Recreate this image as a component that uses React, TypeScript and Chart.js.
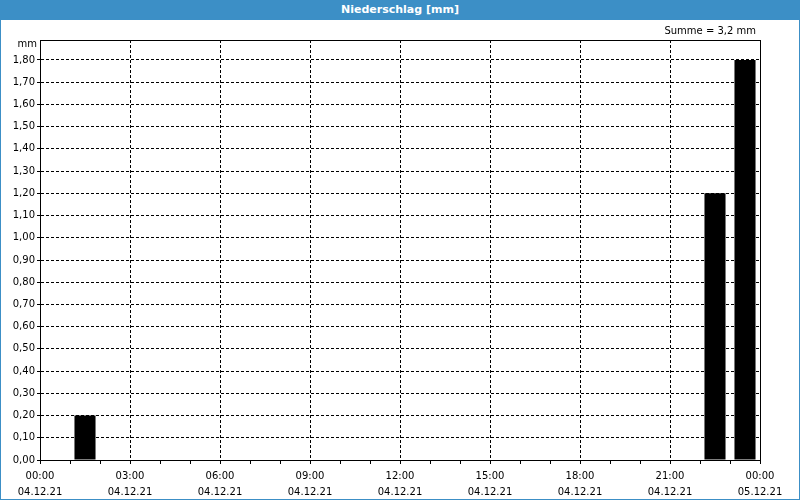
import React, { useEffect, useRef } from "react";
import { Chart, registerables } from "chart.js";

Chart.register(...registerables);

const TITLE = "Niederschlag [mm]";
const UNIT = "mm";
const HOURS = Array.from({ length: 24 }, (_, i) => i);
const VALUES = [
  0, 0.2, 0, 0, 0, 0, 0, 0, 0, 0, 0, 0,
  0, 0, 0, 0, 0, 0, 0, 0, 0, 0, 1.2, 1.8,
];
const X_TIME_LABELS = ["00:00", "03:00", "06:00", "09:00", "12:00", "15:00", "18:00", "21:00", "00:00"];
const X_DATE_LABELS = ["04.12.21", "04.12.21", "04.12.21", "04.12.21", "04.12.21", "04.12.21", "04.12.21", "04.12.21", "05.12.21"];
const Y_MAX = 1.89;

const BLUE = "#3c8fc6";
const FONT = "'DejaVu Sans', Verdana, sans-serif";

export default function App() {
  const ref = useRef<HTMLCanvasElement>(null);

  useEffect(() => {
    document.body.style.margin = "0";
    const sum = VALUES.reduce((a, b) => a + b, 0);
    const sumText = "Summe = " + (Math.round(sum * 10) / 10).toString().replace(".", ",") + " mm";

    const framePlugin = {
      id: "frame",
      afterDraw(chart: any) {
        const { ctx, chartArea } = chart;
        ctx.save();
        ctx.strokeStyle = "#000";
        ctx.lineWidth = 1;
        ctx.setLineDash([]);
        ctx.strokeRect(
          Math.round(chartArea.left) + 0.5,
          Math.round(chartArea.top) + 0.5,
          Math.round(chartArea.right - chartArea.left),
          Math.round(chartArea.bottom - chartArea.top)
        );
        ctx.fillStyle = "#000";
        ctx.font = "10px " + FONT;
        ctx.textAlign = "right";
        ctx.textBaseline = "middle";
        ctx.fillText(UNIT, chartArea.left - 3, chartArea.top + 4);
        ctx.fillText(sumText, chartArea.right - 4, 31);
        ctx.restore();
      },
    };

    const chart = new Chart(ref.current!, {
      type: "bar",
      data: {
        datasets: [
          {
            data: HOURS.map((h, i) => ({ x: h + 0.5, y: VALUES[i] })),
            backgroundColor: "#000",
            borderWidth: 0,
            barPercentage: 0.9,
            categoryPercentage: 0.78,
          },
        ],
      },
      options: {
        animation: false,
        responsive: false,
        layout: { padding: { top: 40, right: 40, left: 0, bottom: 0 } },
        plugins: {
          legend: { display: false },
          tooltip: { enabled: false },
          title: { display: false },
        },
        scales: {
          x: {
            type: "linear",
            min: 0,
            max: 24,
            offset: false,
            afterFit(scale: any) {
              scale.height = 40;
            },
            border: { display: true, color: "#000", width: 1, dash: [3, 2] },
            grid: {
              offset: false,
              color: (c: any) => (c.tick && c.tick.value % 3 === 0 ? "#000" : "rgba(0,0,0,0)"),
              tickColor: "#000",
              tickLength: 4,
              tickBorderDash: [],
              drawTicks: true,
            },
            ticks: {
              stepSize: 1,
              autoSkip: false,
              maxRotation: 0,
              padding: 4,
              color: "#000",
              font: { family: FONT, size: 10, lineHeight: "16px" } as any,
              callback: (v: any) => {
                const n = Number(v);
                if (n % 3 !== 0) return "";
                const i = n / 3;
                return [X_TIME_LABELS[i], X_DATE_LABELS[i]];
              },
            },
          },
          y: {
            min: 0,
            max: Y_MAX,
            afterFit(scale: any) {
              scale.width = 40;
            },
            border: { display: true, color: "#000", width: 1, dash: [3, 2] },
            grid: {
              color: "#000",
              tickColor: "#000",
              tickLength: 3,
              tickBorderDash: [3, 2],
            },
            ticks: {
              stepSize: 0.1,
              includeBounds: false,
              padding: 2,
              color: "#000",
              font: { family: FONT, size: 10 },
              callback: (v: any) => Number(v).toFixed(2).replace(".", ","),
            },
          },
        },
      },
      plugins: [framePlugin],
    } as any);
    return () => chart.destroy();
  }, []);

  return (
    <div
      style={{
        position: "fixed",
        left: 0,
        top: 0,
        width: 800,
        height: 500,
        boxSizing: "border-box",
        border: "1px solid " + BLUE,
        background: "#fff",
        overflow: "hidden",
      }}
    >
      <canvas
        ref={ref}
        width={800}
        height={500}
        style={{ position: "absolute", left: -1, top: -1, width: 800, height: 500 }}
      />
      <div
        style={{
          position: "absolute",
          left: -1,
          top: -1,
          width: 800,
          height: 20,
          background: BLUE,
          color: "#fff",
          fontFamily: FONT,
          fontWeight: "bold",
          fontSize: 11,
          lineHeight: "20px",
          textAlign: "center",
        }}
      >
        {TITLE}
      </div>
    </div>
  );
}
